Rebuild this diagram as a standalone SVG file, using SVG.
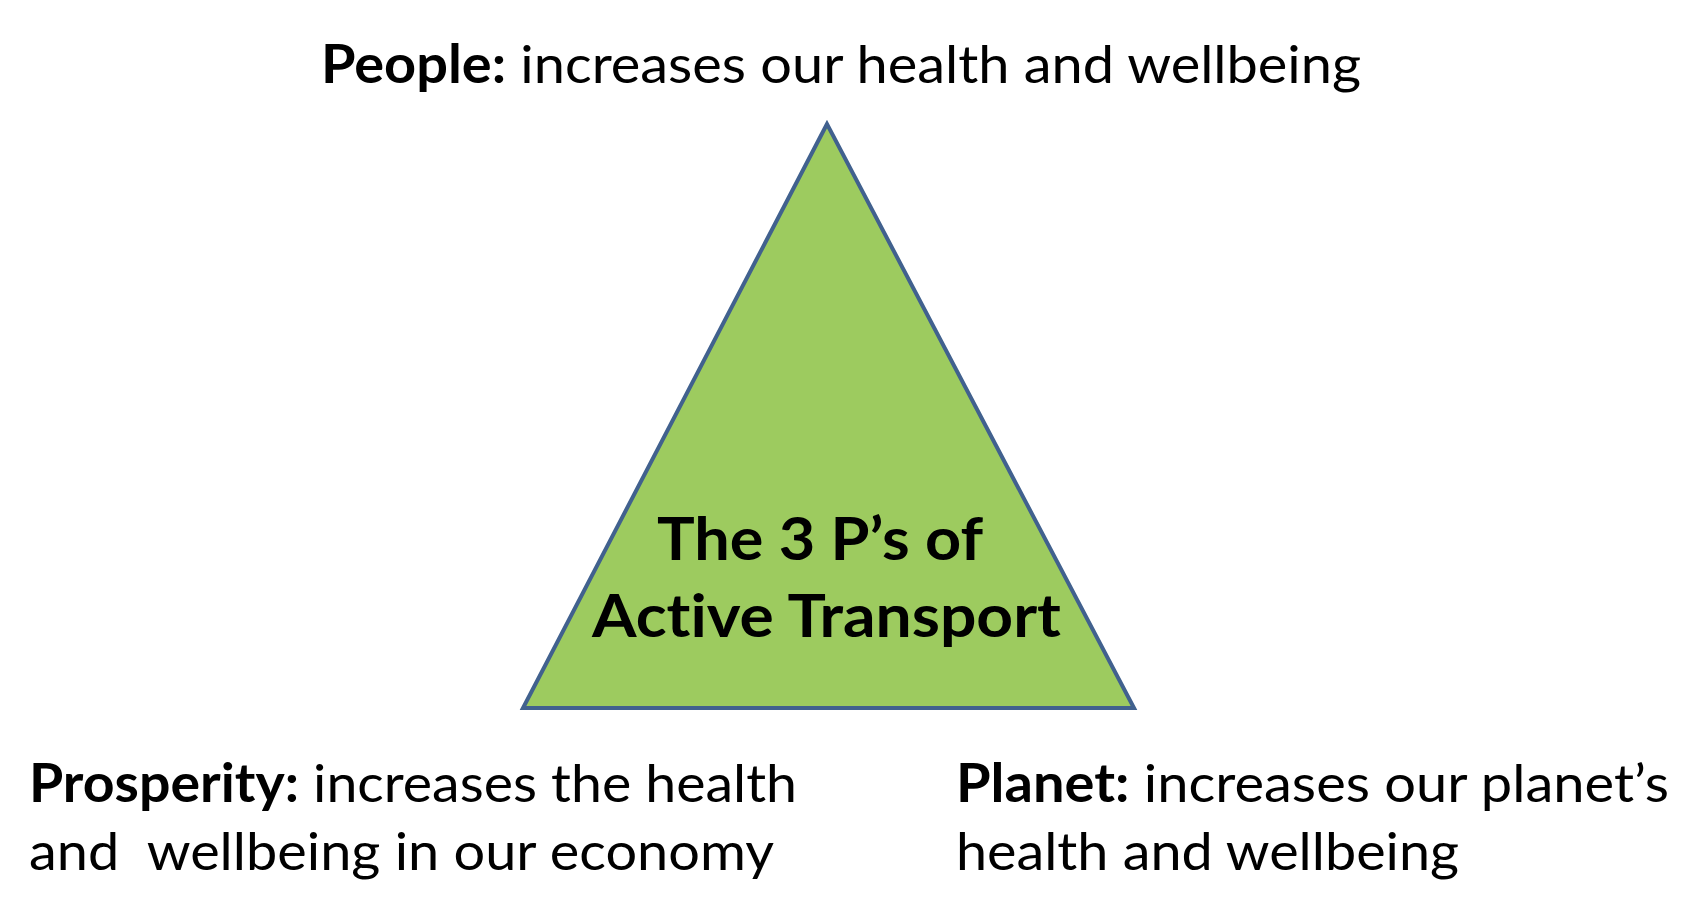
<svg xmlns="http://www.w3.org/2000/svg" width="1694" height="902" viewBox="0 0 1694 902">
<style>
text{font-variant-ligatures:none;font-feature-settings:"liga" 0,"clig" 0,"dlig" 0}
.t{font-family:Lato,"Noto Sans","Liberation Sans",sans-serif;font-size:53px;fill:#000}
.b{font-weight:bold}
.c{font-family:Lato,"Noto Sans","Liberation Sans",sans-serif;font-size:60px;font-weight:bold;fill:#000}
</style>
<rect width="1694" height="902" fill="#fff"/>
<g id="triangle">
<polygon points="827,124 523,708 1134,708" fill="#9dcb5f" stroke="#41618e" stroke-width="4" stroke-linejoin="miter"/>
<text class="c" x="657" y="560" textLength="326" lengthAdjust="spacingAndGlyphs">The 3 P’s of</text>
<text class="c" x="592" y="637" textLength="469" lengthAdjust="spacingAndGlyphs">Active Transport</text>
</g>
<g id="people">
<text class="t" x="321" y="83" textLength="1040" lengthAdjust="spacingAndGlyphs"><tspan class="b">People:</tspan> increases our health and wellbeing</text>
</g>
<g id="prosperity">
<text class="t" x="29" y="802" textLength="768" lengthAdjust="spacingAndGlyphs"><tspan class="b">Prosperity:</tspan> increases the health</text>
<text class="t" x="29" y="870" textLength="745" lengthAdjust="spacingAndGlyphs" xml:space="preserve">and  wellbeing in our economy</text>
</g>
<g id="planet">
<text class="t" x="956" y="802" textLength="713" lengthAdjust="spacingAndGlyphs"><tspan class="b">Planet:</tspan> increases our planet’s</text>
<text class="t" x="956" y="870" textLength="503" lengthAdjust="spacingAndGlyphs">health and wellbeing</text>
</g>
<g id="connectors"/>
</svg>
